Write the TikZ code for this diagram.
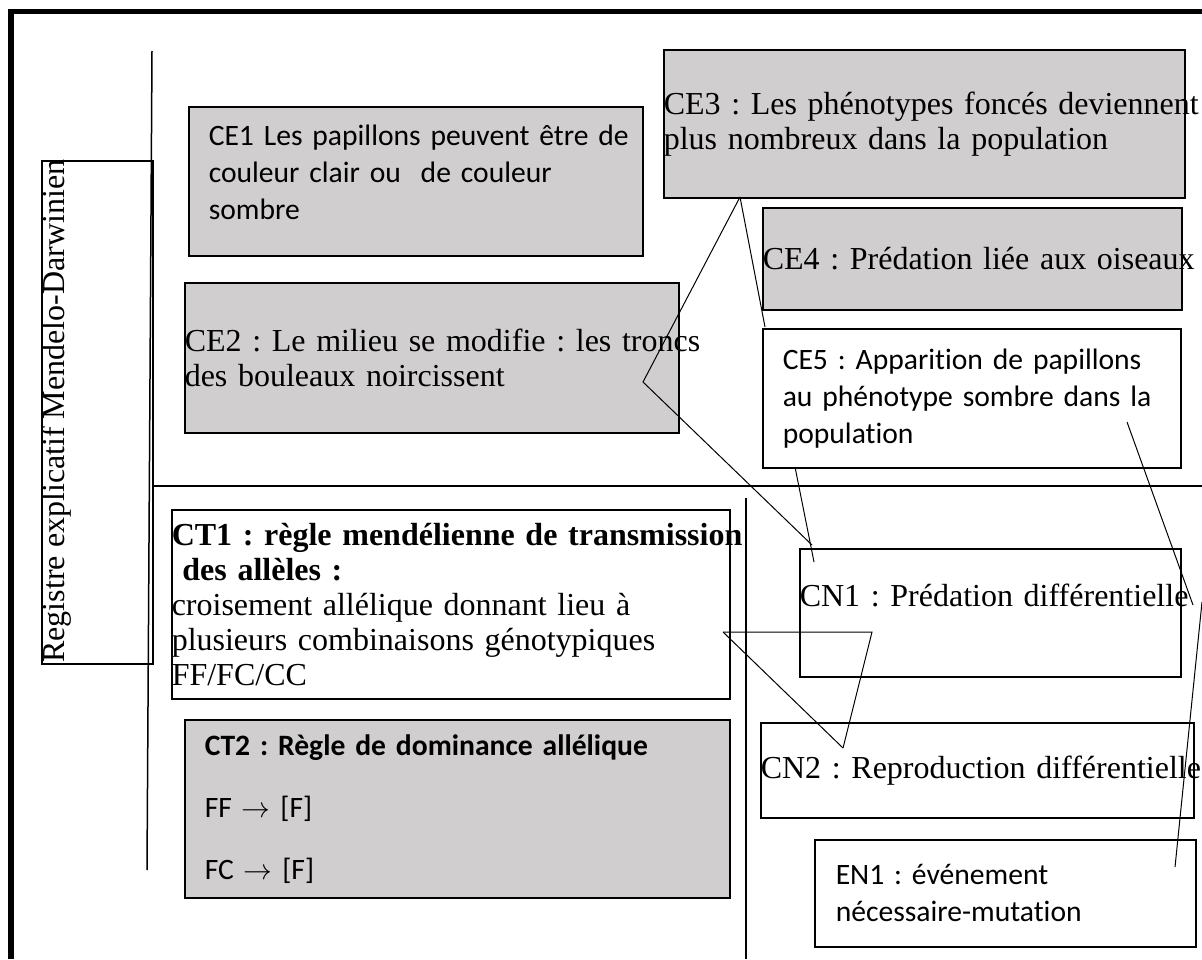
\documentclass[tikz,border=0pt]{standalone}
\usepackage{fontspec}
\setmainfont{Liberation Serif}
\newfontfamily\calibri[Ligatures=NoCommon]{Carlito}
\usepackage{tikz}
\usetikzlibrary{positioning}
\frenchspacing
\definecolor{boxgrey}{RGB}{208,206,207}
\tikzset{
  cbox/.style={draw, line width=0.75pt, inner ysep=0pt, inner xsep=0pt, anchor=north west, align=left},
  greybox/.style={cbox, fill=boxgrey},
  serif/.style={font=\fontsize{16}{17.5}\selectfont},
  calib/.style={font=\calibri\fontsize{14.8}{18.5}\selectfont},
  link/.style={line width=0.5pt},
  sepline/.style={line width=1.4pt},
  frameline/.style={line width=2.6pt}
}
\begin{document}
\begin{tikzpicture}[x=0.5pt, y=-0.5pt]
  \useasboundingbox (0,0) rectangle (1202,959);

  % Frame and separators
  \draw[frameline] (11,959) -- (11,11.5) -- (1202,11.5);
  \draw[line width=0.75pt] (152,51) -- (147,870);
  \draw[sepline] (152,486) -- (1202,486);
  \draw[sepline] (746,498) -- (746,959);

  % Register
  \node[cbox, minimum width=55.5pt, minimum height=251.5pt] (reg) at (41,160) {};
  \node[serif, rotate=90, anchor=north west, inner sep=0pt] (regtxt) at (42,663)
    {Registre explicatif Mendelo-Darwinien};

  % Empirical register
  \node[greybox, calib, inner xsep=10pt, text width=207pt, minimum width=227pt, minimum height=74.5pt] (ce1) at (188,106)
    {\mbox{CE1 Les papillons peuvent être de}\\couleur clair ou\ \ de couleur\\sombre\\[-9.5pt]\mbox{}};
  \node[greybox, serif, text width=247pt, minimum width=247pt, minimum height=75pt] (ce2) at (184,282)
    {\mbox{CE2 : Le milieu se modifie : les troncs}\\des bouleaux noircissent};
  \node[greybox, serif, text width=260.5pt, minimum width=260.5pt, minimum height=74pt] (ce3) at (663,49)
    {\mbox{CE3 : Les phénotypes foncés deviennent}\\plus nombreux dans la population};
  \node[greybox, serif, text width=209.5pt, minimum width=209.5pt, minimum height=51pt] (ce4) at (762,207)
    {\mbox{CE4 : Prédation liée aux oiseaux}};
  \node[cbox, calib, inner xsep=10pt, text width=189pt, minimum width=209pt, minimum height=69.5pt] (ce5) at (762,328)
    {\mbox{CE5 : Apparition de papillons}\\au phénotype sombre dans la\\population};

  % Theoretical register
  \node[cbox, serif, text width=279pt, minimum width=279pt, minimum height=94.5pt] (ct1) at (171,509)
    {\textbf{\mbox{CT1 : règle mendélienne de transmission}}\\\textbf{\ des allèles :}\\croisement allélique donnant lieu à\\plusieurs combinaisons génotypiques\\FF/FC/CC};
  \node[greybox, calib, inner xsep=10pt, text width=252.5pt, minimum width=272.5pt, minimum height=89pt] (ct2) at (184,719)
    {\textbf{CT2 : Règle de dominance allélique}\\[12.5pt]FF $\rightarrow$ [F]\\[12.5pt]FC $\rightarrow$ [F]};

  % Necessity register
  \node[cbox, serif, text width=190.5pt, minimum width=190.5pt, minimum height=64pt] (cn1) at (799,548)
    {\mbox{CN1 : Prédation différentielle}\\\mbox{}};
  \node[cbox, serif, text width=216.5pt, minimum width=216.5pt, minimum height=47.5pt] (cn2) at (760,722)
    {\mbox{CN2 : Reproduction différentielle}};
  \node[cbox, calib, inner xsep=10.5pt, text width=169.5pt, minimum width=190.5pt, minimum height=53.5pt] (en1) at (814,839)
    {EN1 : événement\\nécessaire-mutation};

  % Links
  \coordinate (k1) at (740,197);
  \coordinate (k2) at (643,382);
  \coordinate (k3) at (812,545);
  \coordinate (k4) at (765,327);
  \coordinate (k5) at (795,467);
  \coordinate (k6) at (814,562);
  \coordinate (k7) at (723,632);
  \coordinate (k8) at (872,632);
  \coordinate (k9) at (843,748);
  \coordinate (k10) at (1127,422);
  \coordinate (k11) at (1193,605);
  \coordinate (k12) at (1202,602);
  \coordinate (k13) at (1175,867);

  \draw[link] (k1) -- (k2) -- (k3);
  \draw[link] (k7) -- (k8) -- (k9);
  \foreach \a/\b in {k1/k4, k5/k6, k7/k9, k10/k11, k12/k13}
    \draw[link] (\a) -- (\b);
\end{tikzpicture}
\end{document}
